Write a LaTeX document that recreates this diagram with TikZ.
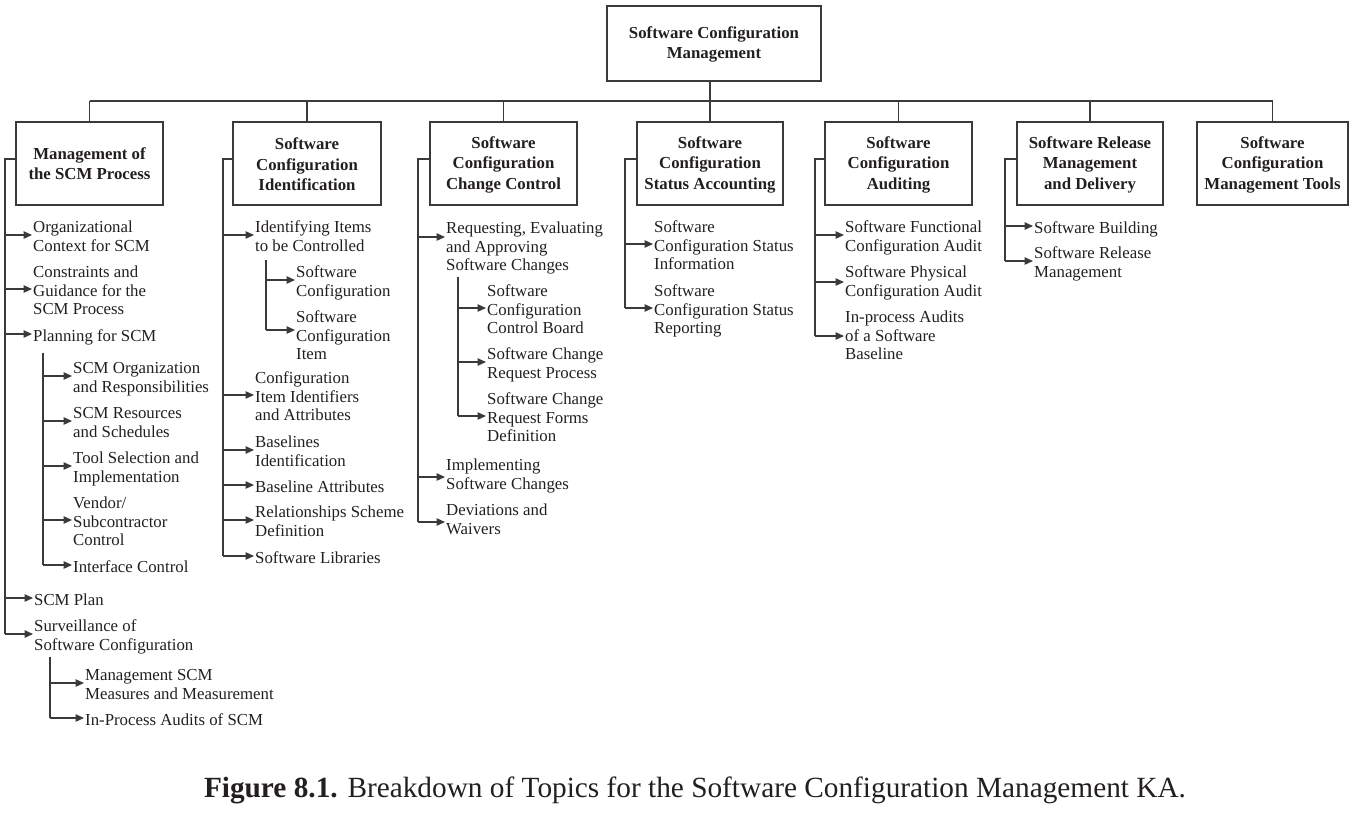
\documentclass[tikz,border=0pt]{standalone}
\usepackage{fontspec}
\setmainfont{Liberation Serif}
\usetikzlibrary{arrows.meta}
\definecolor{ink}{HTML}{231F20}
\definecolor{linec}{HTML}{3A3A3A}
% fixed top and bottom clearance for the leaf labels, so that the
% anchor of a label sits level with the middle of its lines
\newcommand{\topgap}{\rule{0pt}{20pt}}
\newcommand{\botgap}{\rule[-5.6pt]{0pt}{5.6pt}}
\begin{document}
\begin{tikzpicture}[x=1pt,y=-1pt,
  topic/.style={draw=linec, line width=1.1pt, align=center, inner sep=0pt, text=ink,
    font=\fontsize{16.8}{20.5}\selectfont\bfseries},
  leaf/.style={anchor=west, align=left, inner sep=0pt, text=ink,
    font=\fontsize{16.8}{18.6}\selectfont,
    execute at end node=\botgap},
  wire/.style={draw=linec, line width=1.1pt},
  arr/.style={draw=linec, line width=1.1pt, -{Triangle[length=8.5pt,width=7.5pt]}, shorten >=1pt},
]
\useasboundingbox (0,0) rectangle (1353,812);

% ---- root and main topics ----
\node[topic, minimum width=214pt, minimum height=75pt] (root) at (714,43.5) {\rule{0pt}{14pt}Software Configuration\\Management};

\node[topic, minimum width=147pt, minimum height=83pt] (b1) at (89.5,163.5) {Management of\\the SCM Process};
\node[topic, minimum width=148pt, minimum height=83pt] (b2) at (307,163.5) {\rule{0pt}{14pt}Software\\Configuration\\Identification};
\node[topic, minimum width=147pt, minimum height=83pt] (b3) at (503.5,163.5) {\rule{0pt}{14pt}Software\\Configuration\\Change Control};
\node[topic, minimum width=146pt, minimum height=83pt] (b4) at (710,163.5) {\rule{0pt}{14pt}Software\\Configuration\\Status Accounting};
\node[topic, minimum width=147pt, minimum height=83pt] (b5) at (898.5,163.5) {\rule{0pt}{14pt}Software\\Configuration\\Auditing};
\node[topic, minimum width=146pt, minimum height=83pt] (b6) at (1090,163.5) {\rule{0pt}{14pt}Software Release\\Management\\and Delivery};
\node[topic, minimum width=151pt, minimum height=83pt] (b7) at (1272.5,163.5) {\rule{0pt}{14pt}Software\\Configuration\\Management Tools};

% bus linking the root to the topics
\coordinate (bus) at (0,101);
\draw[wire] (root.south -| b4.north) -- (b4.north);
\draw[wire] (b1.north |- bus) -- (b7.north |- bus);
\foreach \b in {b1,b2,b3,b5,b6,b7}
  \draw[wire] (\b.north |- bus) -- (\b.north);

% ---- column 1: Management of the SCM Process ----
\node[leaf] (o1) at (33,235) {\topgap Organizational\\Context for SCM};
\node[leaf] (o2) at (33,289) {\topgap Constraints and\\Guidance for the\\SCM Process};
\node[leaf] (o3) at (33,334) {\topgap Planning for SCM};
\node[leaf] (p1) at (73,376) {\topgap SCM Organization\\and Responsibilities};
\node[leaf] (p2) at (73,421) {\topgap SCM Resources\\and Schedules};
\node[leaf] (p3) at (73,466) {\topgap Tool Selection and\\Implementation};
\node[leaf] (p4) at (73,520) {\topgap Vendor/\\Subcontractor\\Control};
\node[leaf] (p5) at (73,565) {\topgap Interface Control};
\node[leaf] (o4) at (34,598) {\topgap SCM Plan};
\node[leaf] (o5) at (34,634) {\topgap Surveillance of\\Software Configuration};
\node[leaf] (q1) at (85,683) {\topgap Management SCM\\Measures and Measurement};
\node[leaf] (q2) at (85,718) {\topgap In-Process Audits of SCM};

\coordinate (k1) at (5,0);
\coordinate (k1p) at (43,353);
\coordinate (k1q) at (50,657);
\draw[wire] ([yshift=4.5pt]b1.west) -| (k1 |- o5.west);
\foreach \n in {o1,o2,o3,o4,o5} \draw[arr] (k1 |- \n.west) -- (\n.west);
\draw[wire] (k1p) -- (k1p |- p5.west);
\foreach \n in {p1,p2,p3,p4,p5} \draw[arr] (k1p |- \n.west) -- (\n.west);
\draw[wire] (k1q) -- (k1q |- q2.west);
\foreach \n in {q1,q2} \draw[arr] (k1q |- \n.west) -- (\n.west);

% ---- column 2: Identification ----
\node[leaf] (i1) at (255,235) {\topgap Identifying Items\\to be Controlled};
\node[leaf] (j1) at (296,280) {\topgap Software\\Configuration};
\node[leaf] (j2) at (296,334) {\topgap Software\\Configuration\\Item};
\node[leaf] (i2) at (255,395) {\topgap Configuration\\Item Identifiers\\and Attributes};
\node[leaf] (i3) at (255,450) {\topgap Baselines\\Identification};
\node[leaf] (i4) at (255,485) {\topgap Baseline Attributes};
\node[leaf] (i5) at (255,520) {\topgap Relationships Scheme\\Definition};
\node[leaf] (i6) at (255,556) {\topgap Software Libraries};

\coordinate (k2) at (223,0);
\coordinate (k2j) at (266,260);
\draw[wire] ([yshift=4.5pt]b2.west) -| (k2 |- i6.west);
\foreach \n in {i1,i2,i3,i4,i5,i6} \draw[arr] (k2 |- \n.west) -- (\n.west);
\draw[wire] (k2j) -- ([yshift=4pt]k2j |- j2.west);
\draw[arr] (k2j |- j1.west) -- (j1.west);
\draw[arr] ([yshift=4pt]k2j |- j2.west) -- ([yshift=4pt]j2.west);

% ---- column 3: Change Control ----
\node[leaf] (r1) at (446,245) {\topgap Requesting, Evaluating\\and Approving\\Software Changes};
\node[leaf] (s1) at (487,308) {\topgap Software\\Configuration\\Control Board};
\node[leaf] (s2) at (487,362) {\topgap Software Change\\Request Process};
\node[leaf] (s3) at (487,416) {\topgap Software Change\\Request Forms\\Definition};
\node[leaf] (r2) at (446,473) {\topgap Implementing\\Software Changes};
\node[leaf] (r3) at (446,518) {\topgap Deviations and\\Waivers};

\coordinate (k3) at (418,0);
\coordinate (k3s) at (458,277);
\draw[wire] ([yshift=4.5pt]b3.west) -| ([yshift=-4pt]k3 |- r3.west);
\draw[arr] ([yshift=8pt]k3 |- r1.west) -- ([yshift=8pt]r1.west);
\draw[arr] ([yshift=-4pt]k3 |- r2.west) -- ([yshift=-4pt]r2.west);
\draw[arr] ([yshift=-4pt]k3 |- r3.west) -- ([yshift=-4pt]r3.west);
\draw[wire] (k3s) -- (k3s |- s3.west);
\foreach \n in {s1,s2,s3} \draw[arr] (k3s |- \n.west) -- (\n.west);

% ---- column 4: Status Accounting ----
\node[leaf] (a1) at (654,244) {\topgap Software\\Configuration Status\\Information};
\node[leaf] (a2) at (654,308) {\topgap Software\\Configuration Status\\Reporting};

\coordinate (k4) at (625,0);
\draw[wire] ([yshift=4.5pt]b4.west) -| (k4 |- a2.west);
\foreach \n in {a1,a2} \draw[arr] (k4 |- \n.west) -- (\n.west);

% ---- column 5: Auditing ----
\node[leaf] (u1) at (845,235) {\topgap Software Functional\\Configuration Audit};
\node[leaf] (u2) at (845,280) {\topgap Software Physical\\Configuration Audit};
\node[leaf] (u3) at (845,334) {\topgap In-process Audits\\of a Software\\Baseline};

\coordinate (k5) at (815,0);
\draw[wire] ([yshift=4.5pt]b5.west) -| ([yshift=-2pt]k5 |- u3.west);
\draw[arr] (k5 |- u1.west) -- (u1.west);
\draw[arr] ([yshift=-2pt]k5 |- u2.west) -- ([yshift=-2pt]u2.west);
\draw[arr] ([yshift=-2pt]k5 |- u3.west) -- ([yshift=-2pt]u3.west);

% ---- column 6: Release Management and Delivery ----
\node[leaf] (d1) at (1034,226) {\topgap Software Building};
\node[leaf] (d2) at (1034,261) {\topgap Software Release\\Management};

\coordinate (k6) at (1005,0);
\draw[wire] ([yshift=4.5pt]b6.west) -| (k6 |- d2.west);
\foreach \n in {d1,d2} \draw[arr] (k6 |- \n.west) -- (\n.west);

% ---- caption ----
\node[anchor=base, inner sep=0pt, text=ink, font=\fontsize{29.3}{34}\selectfont] (cap) at (695,797)
  {\textbf{Figure 8.1.} Breakdown of Topics for the Software Configuration Management KA.};
\end{tikzpicture}
\end{document}
